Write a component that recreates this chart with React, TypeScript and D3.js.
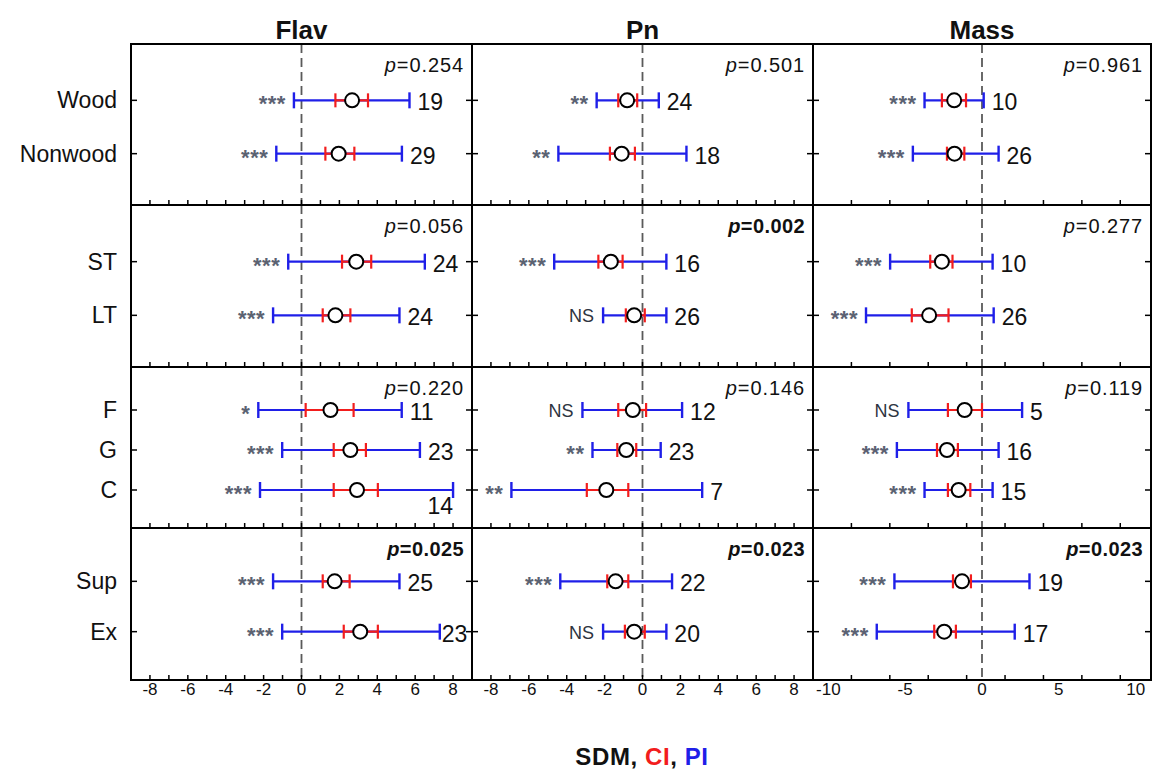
import React, { useEffect } from 'react';
import * as d3 from 'd3';

// moderators, one panel row per group
const groups = [['Wood', 'Nonwood'], ['ST', 'LT'], ['F', 'G', 'C'], ['Sup', 'Ex']];
const categories = ['Wood', 'Nonwood', 'ST', 'LT', 'F', 'G', 'C', 'Sup', 'Ex'];
const traits = ['Flav', 'Pn', 'Mass'];

// Flav
const flavMean = [2.67, 1.96, 2.89, 1.79, 1.53, 2.58, 2.93, 1.75, 3.1];
const flavCiLo = [1.79, 1.26, 2.14, 1.12, 0.22, 1.7, 1.7, 1.12, 2.23];
const flavCiHi = [3.51, 2.79, 3.68, 2.58, 2.75, 3.4, 4.03, 2.54, 4.03];
const flavPiLo = [-0.4, -1.33, -0.7, -1.5, -2.28, -1.02, -2.19, -1.5, -1.02];
const flavPiHi = [5.7, 5.3, 6.51, 5.17, 5.29, 6.25, 8.0, 5.17, 7.3];
const flavN = [19, 29, 24, 24, 11, 23, 14, 25, 23];
const flavSig = ['***', '***', '***', '***', '*', '***', '***', '***', '***'];
const flavP = ['0.254', '0.056', '0.220', '0.025'];

// Pn
const pnMean = [-0.81, -1.1, -1.67, -0.44, -0.51, -0.86, -1.91, -1.42, -0.44];
const pnCiLo = [-1.28, -1.72, -2.33, -0.88, -1.28, -1.33, -2.94, -1.86, -0.93];
const pnCiHi = [-0.28, -0.4, -1.05, 0.12, 0.19, -0.33, -0.75, -0.75, 0.12];
const pnPiLo = [-2.42, -4.44, -4.66, -2.08, -3.17, -2.64, -6.92, -4.34, -2.08];
const pnPiHi = [0.86, 2.32, 1.26, 1.26, 2.09, 0.96, 3.15, 1.56, 1.26];
const pnN = [24, 18, 16, 26, 12, 23, 7, 22, 20];
const pnSig = ['**', '**', '***', 'NS', 'NS', '**', '**', '***', 'NS'];
const pnP = ['0.501', '0.002', '0.146', '0.023'];

// Mass
const massMean = [-1.81, -1.79, -2.61, -3.44, -1.13, -2.28, -1.52, -1.3, -2.46];
const massCiLo = [-2.61, -2.28, -3.37, -4.57, -2.22, -2.93, -2.22, -1.89, -3.11];
const massCiHi = [-1.04, -1.15, -1.92, -2.18, 0.0, -1.57, -0.76, -0.72, -1.7];
const massPiLo = [-3.74, -4.5, -5.98, -7.55, -4.79, -5.54, -3.74, -5.7, -6.85];
const massPiHi = [0.11, 1.08, 0.69, 0.76, 2.61, 1.08, 0.69, 3.09, 2.13];
const massN = [10, 26, 10, 26, 5, 16, 15, 19, 17];
const massSig = ['***', '***', '***', '***', 'NS', '***', '***', '***', '***'];
const massP = ['0.961', '0.277', '0.119', '0.023'];

// axes
const domains = [[-9, 9], [-9, 9], [-11, 11]];
const tickLabels = [[-8, -6, -4, -2, 0, 2, 4, 6, 8], [-8, -6, -4, -2, 0, 2, 4, 6, 8], [-10, -5, 0, 5, 10]];
const minorStep = [1, 1, 2.5];

const series = [
  { mean: flavMean, ciLo: flavCiLo, ciHi: flavCiHi, piLo: flavPiLo, piHi: flavPiHi, n: flavN, sig: flavSig, p: flavP },
  { mean: pnMean, ciLo: pnCiLo, ciHi: pnCiHi, piLo: pnPiLo, piHi: pnPiHi, n: pnN, sig: pnSig, p: pnP },
  { mean: massMean, ciLo: massCiLo, ciHi: massCiHi, piLo: massPiLo, piHi: massPiHi, n: massN, sig: massSig, p: massP },
];

const colX = [131, 472, 813, 1151];
const rowY = [44, 205, 367, 528, 680];
const FONT = '"Liberation Sans", Arial, sans-serif';
const BLUE = '#1f1fe8';
const RED = '#f21d1d';

export default function App() {
  useEffect(() => {
    document.body.style.margin = '0';
  }, []);

  const panels: JSX.Element[] = [];
  const frames: JSX.Element[] = [];

  traits.forEach((trait, c) => {
    const s = series[c];
    groups.forEach((grp, g) => {
      const x0 = colX[c], x1 = colX[c + 1];
      const y0 = rowY[g], y1 = rowY[g + 1];
      const x = d3.scaleLinear().domain(domains[c]).range([x0, x1]);
      const y = d3.scalePoint().domain(grp).range([y0 + 3, y1 + 2]).padding(1);
      const ticks = d3.range(domains[c][0], domains[c][1] + 0.001, minorStep[c])
        .filter((t) => t > domains[c][0] && t < domains[c][1]);
      const pv = s.p[g];
      const bold = parseFloat(pv) < 0.05;

      panels.push(
        <g key={`${c}-${g}`}>
          <line x1={x(0)} x2={x(0)} y1={y0} y2={y1} stroke="#5a5a5a" strokeWidth={1.8} strokeDasharray="9,5" />
          {ticks.map((t) => (
            <line key={t} x1={x(t)} x2={x(t)} y1={y1} y2={y1 - 5} stroke="#000" strokeWidth={1.5} />
          ))}
          {grp.map((cat) => {
            const i = categories.indexOf(cat);
            const cy = y(cat) as number;
            const lo = x(s.piLo[i]), hi = x(s.piHi[i]);
            const nText = String(s.n[i]);
            const w = nText.length * 0.556 * 23;
            let nx = hi + 8, ny = cy + 2, anchor = 'start';
            if (nx + w > x1 - 2) { nx = hi + 2; }
            if (nx + w > x1 - 2) { nx = hi; ny = cy + 16; anchor = 'end'; }
            const sig = s.sig[i];
            return (
              <g key={cat}>
                <line x1={x0} x2={x0 + 6} y1={cy} y2={cy} stroke="#000" strokeWidth={1.5} />
                <line x1={x1 - 6} x2={x1} y1={cy} y2={cy} stroke="#000" strokeWidth={1.5} />
                <line x1={lo} x2={hi} y1={cy} y2={cy} stroke={BLUE} strokeWidth={2.2} />
                <line x1={lo} x2={lo} y1={cy - 8} y2={cy + 8} stroke={BLUE} strokeWidth={2.4} />
                <line x1={hi} x2={hi} y1={cy - 8} y2={cy + 8} stroke={BLUE} strokeWidth={2.4} />
                <line x1={x(s.ciLo[i])} x2={x(s.ciHi[i])} y1={cy} y2={cy} stroke={RED} strokeWidth={2.2} />
                <line x1={x(s.ciLo[i])} x2={x(s.ciLo[i])} y1={cy - 7} y2={cy + 7} stroke={RED} strokeWidth={2.2} />
                <line x1={x(s.ciHi[i])} x2={x(s.ciHi[i])} y1={cy - 7} y2={cy + 7} stroke={RED} strokeWidth={2.2} />
                <circle cx={x(s.mean[i])} cy={cy} r={7} fill="#fff" stroke="#000" strokeWidth={2} />
                {sig === 'NS' ? (
                  <text x={lo - 9} y={cy + 1} textAnchor="end" dominantBaseline="central"
                    fontFamily={FONT} fontSize={18} fill="#2d3440">NS</text>
                ) : (
                  <text x={lo - 8} y={cy + 11} textAnchor="end" fontFamily={FONT} fontSize={22}
                    fontWeight="bold" letterSpacing={0.5} fill="#5b6272">{sig}</text>
                )}
                <text x={nx} y={ny} textAnchor={anchor} dominantBaseline="central"
                  fontFamily={FONT} fontSize={23} fill="#111">{nText}</text>
              </g>
            );
          })}
          <text x={x1 - 8} y={y0 + 28} textAnchor="end" fontFamily={FONT} fontSize={20}
            letterSpacing={bold ? 0.4 : 0.9} fontWeight={bold ? 'bold' : 'normal'} fill="#111">
            <tspan fontStyle="italic">p</tspan>={pv}
          </text>
        </g>
      );
      frames.push(
        <rect key={`f${c}-${g}`} x={x0} y={y0} width={x1 - x0} height={y1 - y0}
          fill="none" stroke="#000" strokeWidth={2} />
      );
    });
  });

  const xBottom = traits.map((trait, c) => d3.scaleLinear().domain(domains[c]).range([colX[c], colX[c + 1]]));
  const rowLabels = groups.flatMap((grp, g) => {
    const y = d3.scalePoint().domain(grp).range([rowY[g] + 3, rowY[g + 1] + 2]).padding(1);
    return grp.map((cat) => ({ cat, cy: y(cat) as number }));
  });

  return (
    <svg width={1152} height={769} style={{ display: 'block', background: '#fff' }}>
      {panels}
      {frames}
      {traits.map((trait, c) => (
        <text key={trait} x={(colX[c] + colX[c + 1]) / 2} y={39} textAnchor="middle"
          fontFamily={FONT} fontSize={26} fontWeight="bold" fill="#111">{trait}</text>
      ))}
      {rowLabels.map(({ cat, cy }) => (
        <text key={cat} x={117} y={cy} textAnchor="end" dominantBaseline="central"
          fontFamily={FONT} fontSize={23} fill="#111">{cat}</text>
      ))}
      {xBottom.map((x, c) => tickLabels[c].map((t) => (
        <text key={`${c}-${t}`} x={x(t)} y={695} textAnchor="middle" fontFamily={FONT}
          fontSize={17} fill="#111">{t}</text>
      )))}
      <text x={642} y={765} textAnchor="middle" fontFamily={FONT} fontSize={24} fontWeight="bold"
        letterSpacing={0.6}>
        <tspan fill="#111">SDM, </tspan>
        <tspan fill={RED}>CI</tspan>
        <tspan fill="#111">, </tspan>
        <tspan fill={BLUE}>PI</tspan>
      </text>
    </svg>
  );
}
